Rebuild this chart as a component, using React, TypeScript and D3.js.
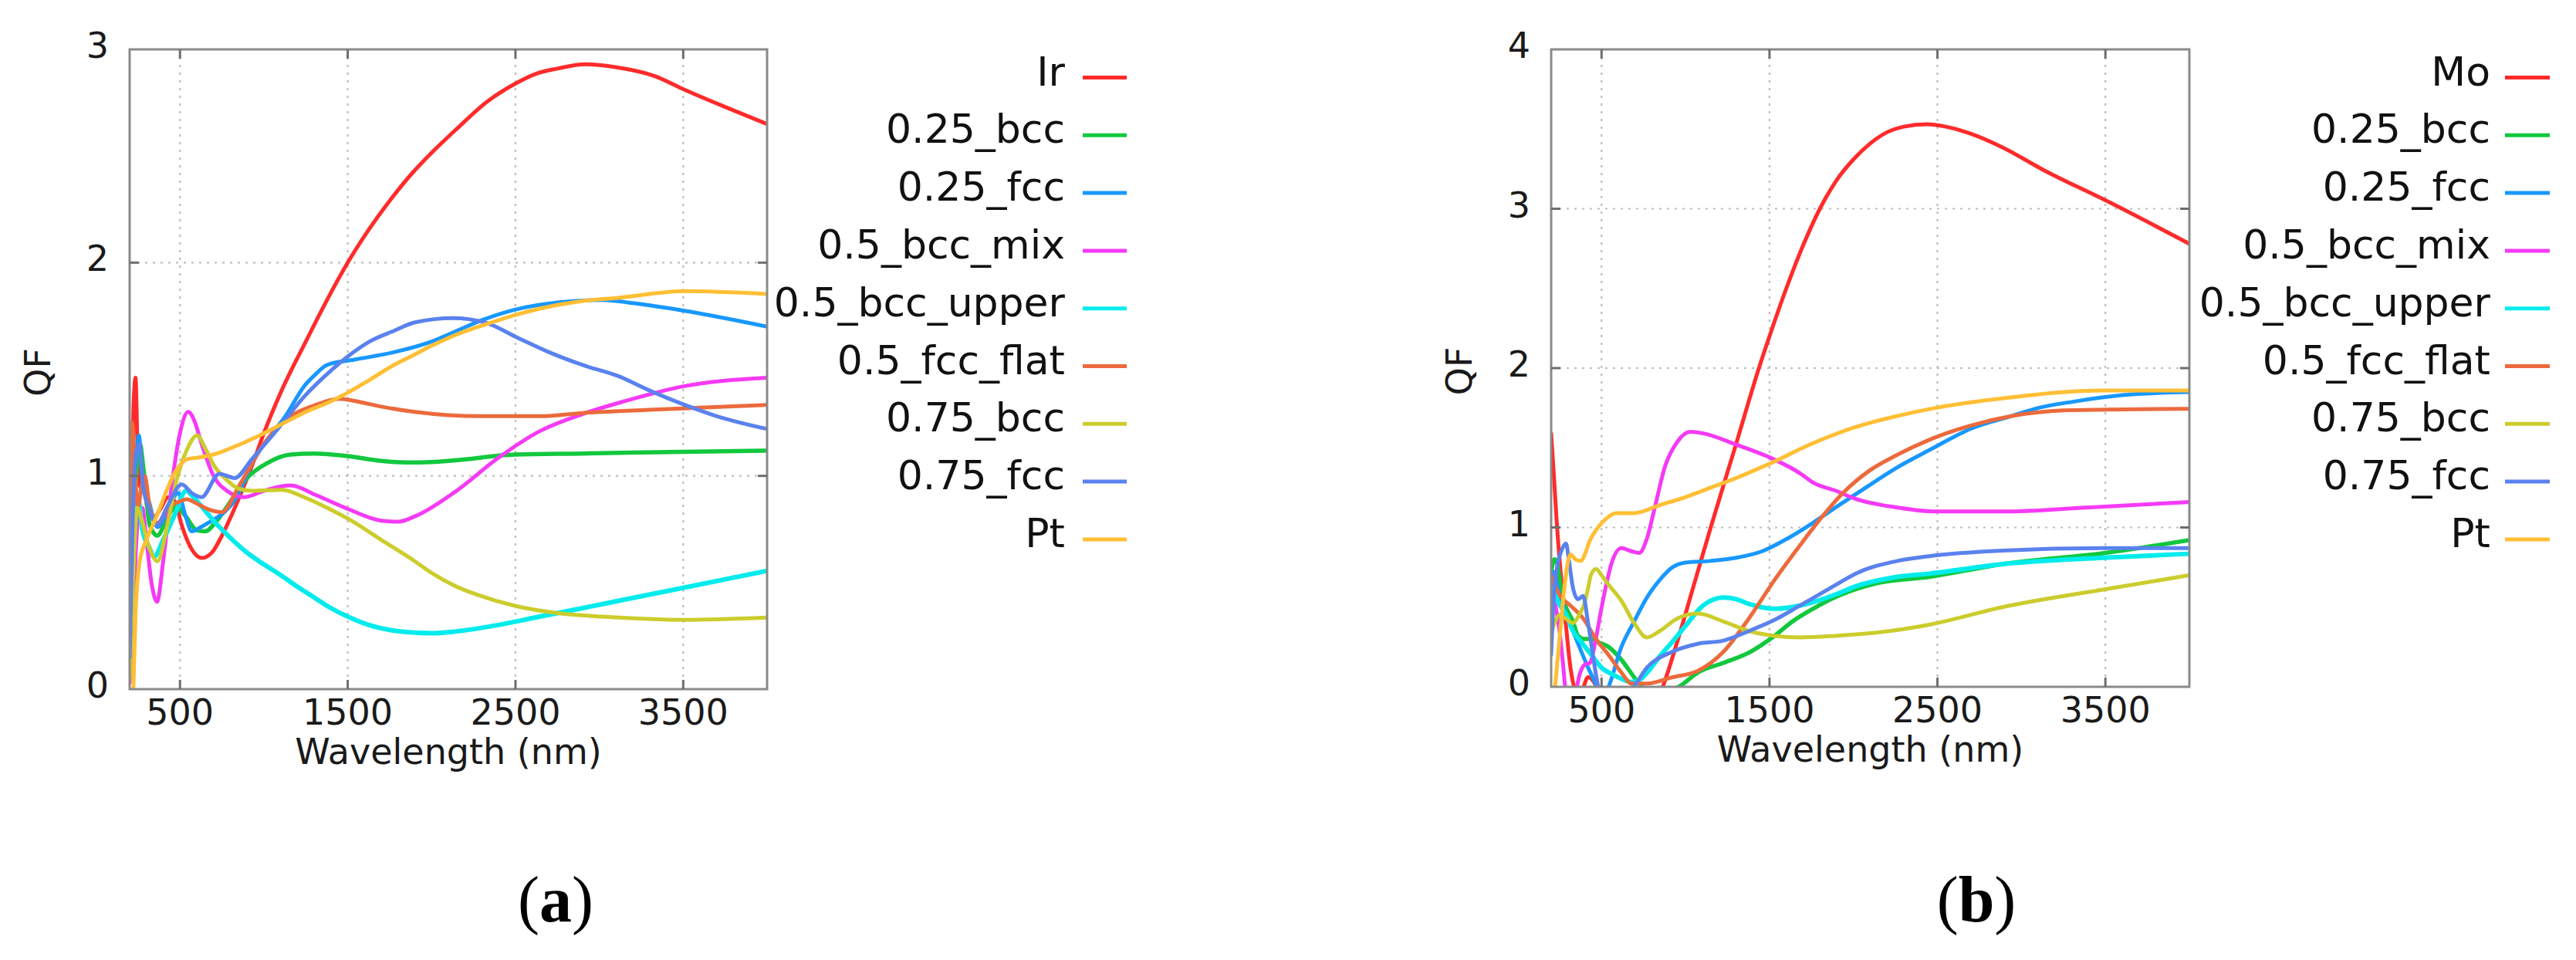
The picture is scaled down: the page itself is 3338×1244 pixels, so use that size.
import React from 'react';
import * as d3 from 'd3';

type Pt = [number, number];

// ---------- shared labels / styles ----------
const namesA = ['Ir', '0.25_bcc', '0.25_fcc', '0.5_bcc_mix', '0.5_bcc_upper', '0.5_fcc_flat', '0.75_bcc', '0.75_fcc', 'Pt'];
const namesB = ['Mo', '0.25_bcc', '0.25_fcc', '0.5_bcc_mix', '0.5_bcc_upper', '0.5_fcc_flat', '0.75_bcc', '0.75_fcc', 'Pt'];
const seriesColors = ['#ff2b2b', '#12c83e', '#1898ff', '#f53af5', '#00ecec', '#ec6a3c', '#cccc2c', '#5a82ee', '#ffbf35'];
const xTickValues = [500, 1500, 2500, 3500];
const yTicksA = [0, 1, 2, 3];
const yTicksB = [0, 1, 2, 3, 4];

// ---------- panel (a) series ----------
const irA: Pt[] = [[200,0.05],[210,0.6],[222,1.3],[235,1.46],[248,1.1],[262,0.95],[280,0.98],[305,0.85],[340,0.8],[380,0.84],[430,0.9],[470,0.88],[510,0.77],[560,0.67],[630,0.615],[690,0.64],[750,0.72],[810,0.82],[870,0.93],[940,1.07],[1000,1.2],[1100,1.39],[1250,1.63],[1380,1.83],[1500,2.0],[1630,2.16],[1750,2.29],[1885,2.42],[2000,2.515],[2140,2.62],[2340,2.76],[2500,2.84],[2620,2.885],[2750,2.91],[2920,2.93],[3110,2.915],[3330,2.875],[3510,2.81],[3750,2.73],[4000,2.65]];
const bcc025A: Pt[] = [[200,0.3],[215,0.7],[240,1.0],[262,1.15],[280,1.05],[320,0.77],[366,0.72],[427,0.81],[480,0.855],[534,0.81],[600,0.745],[650,0.74],[720,0.79],[810,0.89],[900,0.99],[1020,1.06],[1160,1.1],[1300,1.105],[1500,1.093],[1700,1.07],[1850,1.063],[2000,1.065],[2140,1.073],[2500,1.1],[2900,1.105],[3500,1.113],[4000,1.118]];
const fcc025A: Pt[] = [[200,0.2],[215,0.8],[240,1.1],[255,1.19],[275,1.0],[312,0.89],[366,0.76],[420,0.83],[490,0.92],[530,0.82],[570,0.74],[625,0.76],[690,0.79],[765,0.83],[830,0.89],[930,1.06],[1020,1.17],[1120,1.27],[1250,1.43],[1300,1.47],[1376,1.52],[1540,1.545],[1775,1.58],[2000,1.63],[2150,1.68],[2300,1.73],[2500,1.78],[2770,1.815],[3020,1.825],[3200,1.81],[3500,1.775],[4000,1.7]];
const mixA: Pt[] = [[200,0.03],[225,0.45],[250,0.8],[275,0.85],[300,0.7],[330,0.5],[363,0.41],[400,0.6],[450,0.95],[500,1.2],[549,1.3],[590,1.25],[625,1.16],[700,1.0],[780,0.93],[880,0.9],[1000,0.93],[1160,0.955],[1310,0.91],[1500,0.845],[1700,0.79],[1800,0.785],[1900,0.81],[2140,0.925],[2390,1.08],[2645,1.21],[2900,1.29],[3150,1.35],[3500,1.42],[4000,1.46]];
const upperA: Pt[] = [[200,0.1],[220,0.6],[250,0.9],[275,0.75],[320,0.66],[345,0.62],[400,0.7],[470,0.82],[536,0.93],[580,0.9],[625,0.86],[700,0.79],[800,0.71],[900,0.64],[1000,0.585],[1100,0.535],[1200,0.48],[1300,0.43],[1400,0.38],[1500,0.34],[1630,0.3],[1750,0.278],[1900,0.265],[2000,0.262],[2140,0.27],[2390,0.3],[2645,0.34],[2900,0.38],[3150,0.42],[3500,0.475],[4000,0.555]];
const flatA: Pt[] = [[200,0.5],[215,1.25],[230,1.05],[250,0.85],[270,0.95],[290,1.0],[320,0.85],[366,0.78],[430,0.85],[500,0.88],[540,0.89],[600,0.87],[680,0.84],[750,0.83],[850,0.95],[1000,1.15],[1160,1.28],[1300,1.33],[1450,1.362],[1550,1.35],[1700,1.325],[1900,1.3],[2100,1.285],[2300,1.28],[2650,1.28],[2900,1.295],[3300,1.31],[3600,1.32],[4000,1.333]];
const bcc075A: Pt[] = [[200,0.05],[220,0.5],[245,0.85],[270,0.8],[310,0.68],[366,0.6],[420,0.75],[480,0.98],[540,1.12],[602,1.19],[650,1.13],[702,1.05],[780,0.98],[850,0.94],[930,0.93],[1110,0.935],[1240,0.9],[1390,0.845],[1500,0.8],[1700,0.7],[1900,0.6],[2000,0.545],[2150,0.48],[2265,0.445],[2500,0.39],[2770,0.355],[3020,0.34],[3500,0.325],[4000,0.336]];
const fcc075A: Pt[] = [[200,0.15],[218,0.8],[240,1.12],[258,1.15],[280,0.95],[310,0.86],[366,0.77],[420,0.85],[511,0.96],[570,0.92],[628,0.9],[735,1.01],[826,0.99],[930,1.08],[1083,1.22],[1250,1.38],[1380,1.48],[1500,1.56],[1630,1.63],[1775,1.68],[1900,1.72],[2129,1.74],[2315,1.72],[2520,1.645],[2700,1.58],[2900,1.52],[3113,1.468],[3300,1.4],[3509,1.333],[3700,1.28],[4000,1.22]];
const ptA: Pt[] = [[222,0.0],[235,0.35],[260,0.6],[300,0.7],[366,0.82],[420,0.93],[473,1.02],[549,1.08],[600,1.085],[700,1.1],[834,1.14],[1000,1.2],[1125,1.25],[1250,1.3],[1400,1.35],[1500,1.39],[1630,1.45],[1775,1.52],[1900,1.57],[2000,1.61],[2140,1.66],[2340,1.715],[2500,1.755],[2650,1.785],[2900,1.82],[3113,1.835],[3509,1.866],[4000,1.853]];

// ---------- panel (b) series ----------
const moB: Pt[] = [[200,1.59],[216,1.33],[231,1.07],[254,0.75],[284,0.43],[315,0.12],[337,0.0],[370,-0.05],[420,0.06],[460,0.02],[520,-0.15],[650,-0.3],[780,-0.2],[865,0.0],[950,0.28],[1050,0.64],[1150,1.0],[1300,1.52],[1437,2.0],[1500,2.2],[1600,2.5],[1700,2.77],[1800,3.0],[1900,3.18],[2000,3.31],[2100,3.41],[2200,3.48],[2300,3.515],[2437,3.53],[2550,3.515],[2700,3.47],[2887,3.385],[3137,3.24],[3487,3.06],[4000,2.78]];
const bcc025B: Pt[] = [[200,0.72],[220,0.8],[235,0.78],[260,0.6],[284,0.51],[330,0.41],[360,0.32],[400,0.3],[436,0.3],[480,0.28],[542,0.25],[618,0.17],[694,0.06],[740,0.0],[800,-0.05],[900,-0.03],[960,0.0],[1074,0.09],[1226,0.15],[1387,0.22],[1530,0.32],[1637,0.41],[1760,0.49],[1887,0.56],[2137,0.65],[2452,0.69],[2887,0.77],[3500,0.84],[4000,0.92]];
const fcc025B: Pt[] = [[200,0.62],[215,0.72],[240,0.62],[280,0.48],[330,0.35],[380,0.22],[420,0.12],[460,0.03],[490,-0.05],[520,-0.05],[542,0.0],[618,0.25],[694,0.41],[770,0.56],[846,0.67],[922,0.75],[1000,0.78],[1150,0.79],[1302,0.81],[1454,0.85],[1606,0.93],[1760,1.03],[1900,1.13],[2073,1.25],[2250,1.37],[2460,1.49],[2700,1.62],[2945,1.7],[3100,1.75],[3313,1.79],[3600,1.83],[3830,1.845],[4000,1.85]];
const mixB: Pt[] = [[200,0.7],[220,0.55],[250,0.35],[270,0.15],[290,-0.05],[330,-0.1],[370,0.08],[400,0.14],[430,0.15],[466,0.3],[497,0.48],[530,0.65],[558,0.77],[618,0.87],[680,0.85],[725,0.84],[770,0.93],[816,1.12],[877,1.38],[953,1.54],[1029,1.6],[1105,1.59],[1302,1.52],[1500,1.44],[1682,1.34],[1762,1.28],[1895,1.23],[2012,1.18],[2262,1.125],[2487,1.1],[2887,1.1],[3387,1.125],[4000,1.16]];
const upperB: Pt[] = [[200,0.52],[215,0.62],[235,0.55],[260,0.5],[290,0.45],[330,0.35],[380,0.28],[440,0.2],[500,0.12],[560,0.08],[620,0.05],[680,0.03],[720,0.04],[780,0.1],[846,0.19],[920,0.28],[998,0.38],[1105,0.51],[1226,0.56],[1300,0.55],[1378,0.52],[1530,0.49],[1682,0.51],[1895,0.58],[2012,0.63],[2262,0.69],[2452,0.71],[2887,0.77],[3487,0.81],[4000,0.835]];
const flatB: Pt[] = [[200,0.69],[230,0.62],[254,0.57],[315,0.51],[390,0.43],[467,0.3],[542,0.2],[618,0.09],[679,0.02],[770,0.02],[922,0.06],[1074,0.1],[1226,0.22],[1378,0.43],[1530,0.67],[1676,0.88],[1800,1.05],[1941,1.22],[2100,1.36],[2250,1.45],[2452,1.55],[2700,1.64],[2945,1.7],[3250,1.735],[3510,1.74],[4000,1.745]];
const bcc075B: Pt[] = [[200,0.33],[220,0.4],[250,0.45],[284,0.43],[330,0.4],[366,0.45],[397,0.52],[420,0.62],[436,0.7],[467,0.74],[500,0.7],[542,0.64],[618,0.54],[694,0.4],[770,0.31],[846,0.35],[953,0.43],[1074,0.46],[1226,0.41],[1378,0.35],[1530,0.32],[1682,0.31],[1895,0.32],[2137,0.34],[2452,0.39],[2887,0.5],[3487,0.61],[4000,0.7]];
const fcc075B: Pt[] = [[200,0.2],[215,0.55],[235,0.75],[260,0.85],[288,0.9],[305,0.8],[330,0.62],[360,0.55],[390,0.57],[420,0.4],[460,0.12],[480,0.0],[520,-0.1],[620,-0.05],[690,0.0],[770,0.12],[922,0.22],[1074,0.27],[1226,0.29],[1378,0.35],[1530,0.42],[1682,0.51],[1895,0.64],[2012,0.71],[2262,0.79],[2452,0.82],[2887,0.855],[3487,0.87],[4000,0.87]];
const ptB: Pt[] = [[223,0.0],[254,0.35],[284,0.67],[314,0.83],[345,0.8],[375,0.79],[436,0.93],[512,1.04],[588,1.09],[694,1.09],[846,1.14],[998,1.19],[1150,1.25],[1302,1.31],[1500,1.4],[1762,1.53],[2012,1.63],[2262,1.7],[2487,1.75],[2887,1.81],[3487,1.86],[4000,1.86]];

const seriesA = [irA, bcc025A, fcc025A, mixA, upperA, flatA, bcc075A, fcc075A, ptA];
const seriesB = [moB, bcc025B, fcc025B, mixB, upperB, flatB, bcc075B, fcc075B, ptB];

const SANS = '"DejaVu Sans", Verdana, sans-serif';
const SERIF = '"Liberation Serif", "Times New Roman", serif';

interface PanelCfg {
  id: string;
  x0: number; x1: number; y0: number; y1: number;
  yTicks: number[];
  names: string[];
  data: Pt[][];
  legTextX: number; legLineX1: number; legLineX2: number;
  tag: string; tagX: number;
}

function Panel({ cfg }: { cfg: PanelCfg }) {
  const x = d3.scaleLinear().domain([200, 4000]).range([cfg.x0, cfg.x1]);
  const yMax = cfg.yTicks[cfg.yTicks.length - 1];
  const y = d3.scaleLinear().domain([0, yMax]).range([cfg.y1, cfg.y0]);
  const line = d3.line<Pt>().x(d => x(d[0])).y(d => y(d[1])).curve(d3.curveMonotoneX);
  const innerY = cfg.yTicks.filter(t => t > 0 && t < yMax);
  const tickLen = 12;
  const gridColor = '#bdbdbd';
  const tickColor = '#6e6e6e';
  const midY = (cfg.y0 + cfg.y1) / 2;
  return (
    <g>
      <defs>
        <clipPath id={`clip-${cfg.id}`}>
          <rect x={cfg.x0} y={cfg.y0} width={cfg.x1 - cfg.x0} height={cfg.y1 - cfg.y0} />
        </clipPath>
      </defs>
      {xTickValues.map(t => (
        <line key={`gx${t}`} x1={x(t)} x2={x(t)} y1={cfg.y0} y2={cfg.y1}
          stroke={gridColor} strokeWidth={2.2} strokeDasharray="3,7" />
      ))}
      {innerY.map(t => (
        <line key={`gy${t}`} x1={cfg.x0} x2={cfg.x1} y1={y(t)} y2={y(t)}
          stroke={gridColor} strokeWidth={2.2} strokeDasharray="3,7" />
      ))}
      <g clipPath={`url(#clip-${cfg.id})`}>
        {cfg.data.map((d, i) => (
          <path key={`s${i}`} d={line(d) || ''} fill="none" stroke={seriesColors[i]}
            strokeWidth={i === 4 ? 6 : i === 1 ? 5.5 : 5} strokeLinejoin="round" strokeLinecap="round" />
        ))}
      </g>
      <rect x={cfg.x0} y={cfg.y0} width={cfg.x1 - cfg.x0} height={cfg.y1 - cfg.y0}
        fill="none" stroke="#8a8a8a" strokeWidth={3} />
      {xTickValues.map(t => (
        <g key={`tx${t}`}>
          <line x1={x(t)} x2={x(t)} y1={cfg.y1} y2={cfg.y1 - tickLen} stroke={tickColor} strokeWidth={3} />
          <line x1={x(t)} x2={x(t)} y1={cfg.y0} y2={cfg.y0 + tickLen} stroke={tickColor} strokeWidth={3} />
        </g>
      ))}
      {innerY.map(t => (
        <g key={`ty${t}`}>
          <line x1={cfg.x0} x2={cfg.x0 + tickLen} y1={y(t)} y2={y(t)} stroke={tickColor} strokeWidth={3} />
          <line x1={cfg.x1} x2={cfg.x1 - tickLen} y1={y(t)} y2={y(t)} stroke={tickColor} strokeWidth={3} />
        </g>
      ))}
      {xTickValues.map(t => (
        <text key={`lx${t}`} x={x(t)} y={cfg.y1 + 46} textAnchor="middle"
          fontFamily={SANS} fontSize={46} fill="#1a1a1a">{t}</text>
      ))}
      {cfg.yTicks.map(t => (
        <text key={`ly${t}`} x={cfg.x0 - 27} y={y(t) + 11} textAnchor="end"
          fontFamily={SANS} fontSize={46} fill="#1a1a1a">{t}</text>
      ))}
      <text x={(cfg.x0 + cfg.x1) / 2} y={cfg.y1 + 97} textAnchor="middle"
        fontFamily={SANS} fontSize={46} fill="#1a1a1a">Wavelength (nm)</text>
      <text transform={`translate(${cfg.x0 - 103},${midY + 4}) rotate(-90)`} textAnchor="middle"
        fontFamily={SANS} fontSize={46} fill="#1a1a1a">QF</text>
      {cfg.names.map((n, i) => {
        const ly = 100.5 + i * 74.8;
        return (
          <g key={`leg${i}`}>
            <text x={cfg.legTextX} y={ly + 10} textAnchor="end" fontFamily={SANS}
              fontSize={52} fill="#111">{n}</text>
            <line x1={cfg.legLineX1} x2={cfg.legLineX2} y1={ly} y2={ly}
              stroke={seriesColors[i]} strokeWidth={5} />
          </g>
        );
      })}
      <text x={cfg.tagX} y={1194} textAnchor="middle" fontFamily={SERIF} fontSize={84} fill="#000">
        <tspan>(</tspan><tspan fontWeight="bold">{cfg.tag}</tspan><tspan>)</tspan>
      </text>
    </g>
  );
}

const panelA: PanelCfg = {
  id: 'a', x0: 168, x1: 994, y0: 64, y1: 893, yTicks: yTicksA, names: namesA, data: seriesA,
  legTextX: 1380, legLineX1: 1403, legLineX2: 1460, tag: 'a', tagX: 720,
};
const panelB: PanelCfg = {
  id: 'b', x0: 2010, x1: 2837, y0: 64, y1: 890, yTicks: yTicksB, names: namesB, data: seriesB,
  legTextX: 3227, legLineX1: 3246, legLineX2: 3304, tag: 'b', tagX: 2561,
};

export default function App() {
  return (
    <svg width={3338} height={1244} viewBox="0 0 3338 1244"
      style={{ position: 'absolute', left: 0, top: 0, background: '#fff' }}>
      <rect x={0} y={0} width={3338} height={1244} fill="#fff" />
      <Panel cfg={panelA} />
      <Panel cfg={panelB} />
    </svg>
  );
}
